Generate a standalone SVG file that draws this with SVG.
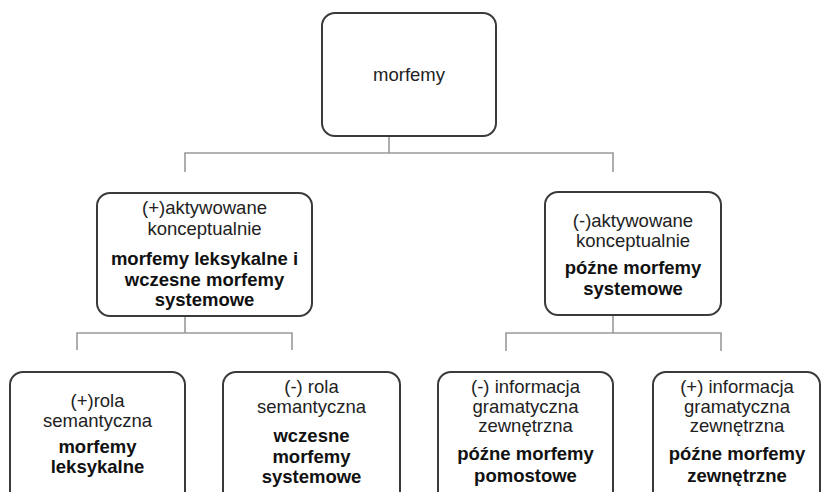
<svg xmlns="http://www.w3.org/2000/svg" width="822" height="492" viewBox="0 0 822 492">
<style>
.box{fill:#fff;stroke:#3a3a3a;stroke-width:2}
.t{font-family:"Liberation Sans",Arial,sans-serif;font-size:18.5px;fill:#222;text-anchor:middle}
.b{font-weight:bold;fill:#111}
.c{fill:none;stroke:#9a9a9a;stroke-width:1.6}
</style>
<rect width="822" height="492" fill="#fff"/>
<g id="connectors">
<path class="c" d="M389 115V153M185 172V153H613V172"/>
<path class="c" d="M185 296V333M77 350V333H292V350"/>
<path class="c" d="M613 293V333M506 351V333H721V351"/>
</g>
<g id="n0">
<rect class="box" x="322" y="13" width="174" height="123" rx="13"/>
<text class="t" x="409" y="81">morfemy</text>
</g>
<g id="n1">
<rect class="box" x="97" y="193" width="215" height="123" rx="13"/>
<text class="t" x="204.5" y="214">(+)aktywowane</text>
<text class="t" x="204.5" y="235">konceptualnie</text>
<text class="t b" x="204.5" y="265">morfemy leksykalne i</text>
<text class="t b" x="204.5" y="286">wczesne morfemy</text>
<text class="t b" x="204.5" y="306">systemowe</text>
</g>
<g id="n2">
<rect class="box" x="545" y="192" width="176" height="123" rx="13"/>
<text class="t" x="633" y="227">(-)aktywowane</text>
<text class="t" x="633" y="247">konceptualnie</text>
<text class="t b" x="633" y="274">późne morfemy</text>
<text class="t b" x="633" y="295">systemowe</text>
</g>
<g id="n3">
<rect class="box" x="10" y="372" width="175" height="135" rx="13"/>
<text class="t" x="97.5" y="407">(+)rola</text>
<text class="t" x="97.5" y="427">semantyczna</text>
<text class="t b" x="97.5" y="453">morfemy</text>
<text class="t b" x="97.5" y="473">leksykalne</text>
</g>
<g id="n4">
<rect class="box" x="223" y="372" width="177" height="135" rx="13"/>
<text class="t" x="311.5" y="393">(-) rola</text>
<text class="t" x="311.5" y="413">semantyczna</text>
<text class="t b" x="311.5" y="442">wczesne</text>
<text class="t b" x="311.5" y="463">morfemy</text>
<text class="t b" x="311.5" y="483">systemowe</text>
</g>
<g id="n5">
<rect class="box" x="438" y="372" width="175" height="135" rx="13"/>
<text class="t" x="525.5" y="393">(-) informacja</text>
<text class="t" x="525.5" y="413">gramatyczna</text>
<text class="t" x="525.5" y="432">zewnętrzna</text>
<text class="t b" x="525.5" y="460">późne morfemy</text>
<text class="t b" x="525.5" y="482">pomostowe</text>
</g>
<g id="n6">
<rect class="box" x="653" y="372" width="167" height="135" rx="13"/>
<text class="t" x="737" y="393">(+) informacja</text>
<text class="t" x="737" y="413">gramatyczna</text>
<text class="t" x="737" y="432">zewnętrzna</text>
<text class="t b" x="737" y="460">późne morfemy</text>
<text class="t b" x="737" y="482">zewnętrzne</text>
</g>
</svg>
